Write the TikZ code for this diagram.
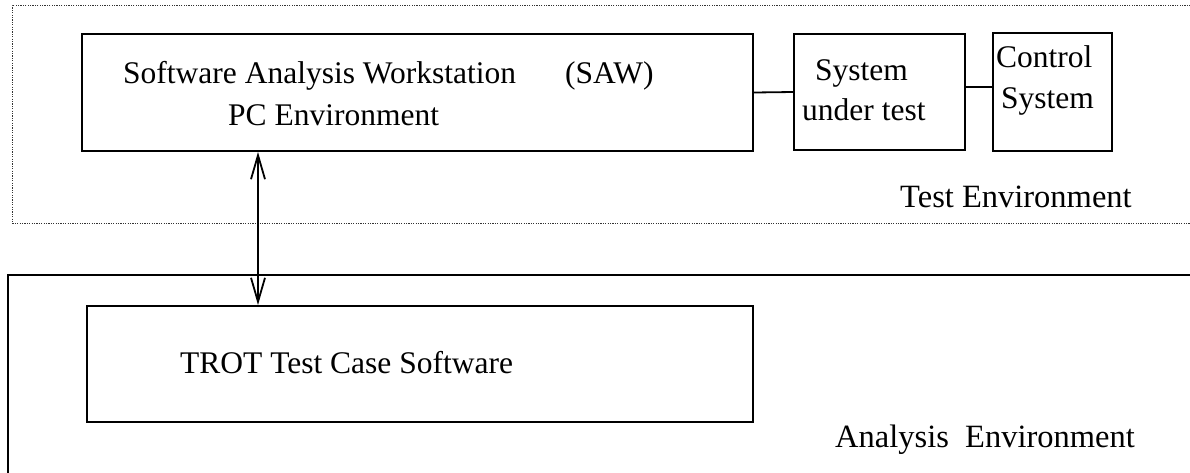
\documentclass[tikz,border=0pt]{standalone}
\usepackage{fontspec}
\setmainfont{Liberation Serif}
\usetikzlibrary{arrows.meta}
\begin{document}
\begin{tikzpicture}[x=1pt,y=-1pt]
\tikzset{
  box/.style={draw, line width=2pt, inner sep=0pt, anchor=north west},
  lbl/.style={font=\fontsize{31.5}{37}\selectfont, inner sep=0pt, anchor=base west},
  envlbl/.style={lbl, font=\fontsize{32.5}{38}\selectfont},
  wire/.style={line width=1.8pt},
  testregion/.style={draw=black!80, line width=0.9pt, dash pattern=on 1.2pt off 1.2pt},
  anaregion/.style={draw, line width=2pt},
  barb/.tip={Straight Barb[length=24pt,width=14pt,line width=1.8pt]}
}
\useasboundingbox (0,0) rectangle (1190,472);
\begin{scope}
  \clip (0,0) rectangle (1190,472);
  \draw[testregion] (1200,5) -- (12,5) -- (12,223) -- (1200,223);
  \draw[anaregion] (1200,275) -- (8,275) -- (8,480);
\end{scope}
% boxes
\node[box, minimum width=671pt, minimum height=117pt] (saw) at (81,33) {};
\node[box, minimum width=171pt, minimum height=116pt] (sut) at (793,33) {};
\node[box, minimum width=119pt, minimum height=118pt] (ctrl) at (992,32) {};
\node[box, minimum width=666pt, minimum height=116pt] (trot) at (86,305) {};
% labels
\node[lbl] (t1) at (123,83) {Software Analysis Workstation};
\node[lbl] (t2) at (565,83) {(SAW)};
\node[lbl] (t3) at (228,125) {PC Environment};
\node[lbl] (t4) at (815,80) {System};
\node[lbl] (t5) at (802,120) {under test};
\node[lbl] (t6) at (996,67) {Control};
\node[lbl] (t7) at (1001,108) {System};
\node[envlbl] (t8) at (900,207) {Test Environment};
\node[lbl] (t9) at (180,373) {TROT Test Case Software};
\node[envlbl] (t10) at (835,447) {Analysis~~Environment};
% connectors
\coordinate (ax) at (258,0);
\draw[wire] (saw.east) -- (sut.west);
\draw[wire] ([yshift=5pt]sut.east) -- ([yshift=5pt]sut.east -| ctrl.west);
\draw[wire, barb-barb] (saw.south -| ax) -- (trot.north -| ax);
\end{tikzpicture}
\end{document}
